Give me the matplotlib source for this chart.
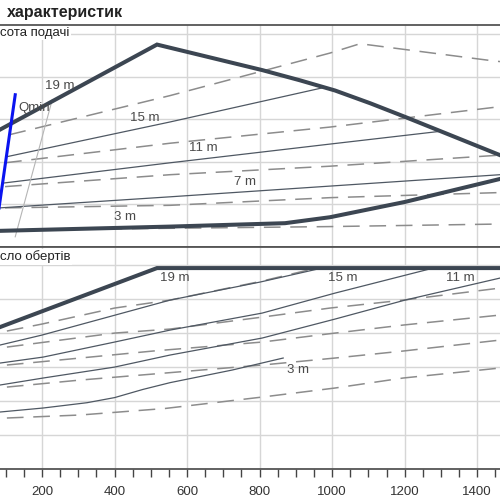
import matplotlib
matplotlib.use("Agg")
import matplotlib.pyplot as plt
from matplotlib.ticker import MultipleLocator

plt.rcParams['font.family'] = ['Liberation Sans', 'DejaVu Sans']
plt.rcParams['lines.scale_dashes'] = False

# top panel: Висота подачі (head, m) against flow
env_q = [84, 517, 807, 911, 1008, 1105, 1201, 1463]
env_h = [13.8, 23.8, 20.8, 19.6, 18.4, 16.9, 15.3, 10.8]
min_q = [84, 553, 870, 994, 1201, 1463]
min_h = [1.9, 2.4, 2.8, 3.5, 5.3, 8.0]
qmin_q = [78, 126]
qmin_h = [3.6, 17.9]
qgray_q = [126, 228]
qgray_h = [1.2, 17.3]

sol_q = [[101, 553, 972], [90, 553, 994, 1298], [84, 553, 1008, 1463]]
sol_h = [[10.6, 14.7, 18.7], [7.5, 9.9, 12.1, 13.6], [4.6, 5.9, 7.2, 8.5]]

dsh_q = [[110, 553, 994, 1077, 1441, 1463],
         [98, 553, 994, 1463],
         [98, 553, 994, 1463],
         [98, 553, 994, 1463],
         [84, 553, 994, 1463]]
dsh_h = [[13.2, 17.8, 22.8, 23.9, 21.9, 21.8],
         [9.9, 12.2, 14.1, 16.5],
         [7.1, 8.5, 9.5, 10.8],
         [4.6, 4.9, 5.8, 6.4],
         [2.0, 2.2, 2.4, 2.7]]

top_lab = ["19 m", "15 m", "11 m", "7 m", "3 m"]
top_lab_q = [250, 484, 644, 760, 429]
top_lab_h = [18.9, 15.2, 11.6, 7.6, 3.5]

# bottom panel: Число обертів (speed, 1/min)
nenv_q = [84, 517, 1463]
nenv_n = [2087, 2955, 2955]

nsol_q = [[84, 200, 553, 801, 972],
          [84, 203, 400, 553, 807, 1008, 1279],
          [84, 203, 400, 553, 807, 1008, 1201, 1463],
          [84, 203, 324, 400, 478, 553, 724, 865]]
nsol_n = [[1823, 1970, 2484, 2749, 2955],
          [1558, 1646, 1867, 2043, 2293, 2587, 2955],
          [1235, 1338, 1499, 1676, 1926, 2205, 2484, 2808],
          [838, 897, 975, 1050, 1170, 1270, 1455, 1632]]

ndsh_q = [[103, 200, 400, 553, 807, 945],
          [103, 400, 553, 807, 994, 1196, 1463],
          [103, 305, 506, 807, 994, 1196, 1463],
          [103, 305, 539, 807, 1008, 1196, 1463],
          [103, 305, 539, 807, 1008, 1196, 1463]]
ndsh_n = [[2029, 2132, 2367, 2484, 2764, 2940],
          [1793, 1999, 2058, 2234, 2367, 2484, 2661],
          [1529, 1632, 1735, 1867, 1990, 2117, 2264],
          [1205, 1308, 1411, 1529, 1632, 1735, 1896],
          [750, 794, 890, 1058, 1191, 1338, 1485]]

bot_lab = ["19 m", "15 m", "11 m", "3 m"]
bot_lab_q = [567, 1028, 1353, 906]
bot_lab_n = [2808, 2808, 2808, 1455]

dark = '#3c4652'
thin = '#4f5863'
dgray = '#8c8c8c'
txt = '#4a4a4a'

fig = plt.figure(figsize=(5, 5), dpi=100)
ax1 = fig.add_axes([0, 0.506, 1, 0.444])
ax2 = fig.add_axes([0, 0.062, 1, 0.444])

for ax in (ax1, ax2):
    ax.set_xlim(84, 1463)
    ax.xaxis.set_major_locator(MultipleLocator(200))
    ax.xaxis.set_minor_locator(MultipleLocator(50))
    ax.grid(True, which='major', color='#d6d6d6', lw=1)
    ax.set_axisbelow(True)
    ax.spines['left'].set_visible(False)
    ax.spines['right'].set_visible(False)
    ax.spines['top'].set_color('#555555')
    ax.spines['bottom'].set_color('#555555')
    ax.spines['top'].set_linewidth(1.3)
    ax.spines['bottom'].set_linewidth(1.3)

ax1.set_ylim(0, 26.1)
ax1.yaxis.set_major_locator(MultipleLocator(5))
ax1.tick_params(which='both', bottom=False, labelbottom=False, left=False, labelleft=False)

ax2.set_ylim(0, 3265)
ax2.yaxis.set_major_locator(MultipleLocator(500))
ax2.tick_params(which='both', left=False, labelleft=False, direction='out',
                length=6, width=1, color='#444444', labelsize=9.5,
                labelcolor='#333333', pad=6)

# top panel
for q, h in zip(dsh_q, dsh_h):
    ax1.plot(q, h, color=dgray, lw=1.1, dashes=(12, 7))
for q, h in zip(sol_q, sol_h):
    ax1.plot(q, h, color=thin, lw=0.9)
ax1.plot(qgray_q, qgray_h, color='#b5b5b5', lw=0.8)
ax1.plot(env_q, env_h, color=dark, lw=2.9, solid_joinstyle='miter')
ax1.plot(min_q, min_h, color=dark, lw=2.9)
ax1.plot(qmin_q, qmin_h, color='#0a14f0', lw=2.2)
ax1.text(134, 16.4, "Qmin", color=txt, fontsize=9.5, va='center', ha='left')
for s, q, h in zip(top_lab, top_lab_q, top_lab_h):
    ax1.text(q, h, s, color=txt, fontsize=9.5, ha='center', va='center')

# bottom panel
for q, n in zip(ndsh_q, ndsh_n):
    ax2.plot(q, n, color=dgray, lw=1.1, dashes=(12, 7))
for q, n in zip(nsol_q, nsol_n):
    ax2.plot(q, n, color=thin, lw=0.9)
ax2.plot(nenv_q, nenv_n, color=dark, lw=2.9, solid_joinstyle='miter')
for s, q, n in zip(bot_lab, bot_lab_q, bot_lab_n):
    ax2.text(q, n, s, color=txt, fontsize=9.5, ha='center', va='center')

fig.text(7 / 500, 1 - 12 / 500, "характеристик", fontsize=11.5, fontweight='bold',
         color='#222222', ha='left', va='center')
fig.text(0, 1 - 33 / 500, "сота подачі", fontsize=9.5, color='#222222',
         ha='left', va='center', bbox=dict(fc='white', ec='none', pad=1))
fig.text(0, 1 - 257 / 500, "сло обертів", fontsize=9.5, color='#222222',
         ha='left', va='center', bbox=dict(fc='white', ec='none', pad=1))

fig.savefig("out.png", dpi=100)
